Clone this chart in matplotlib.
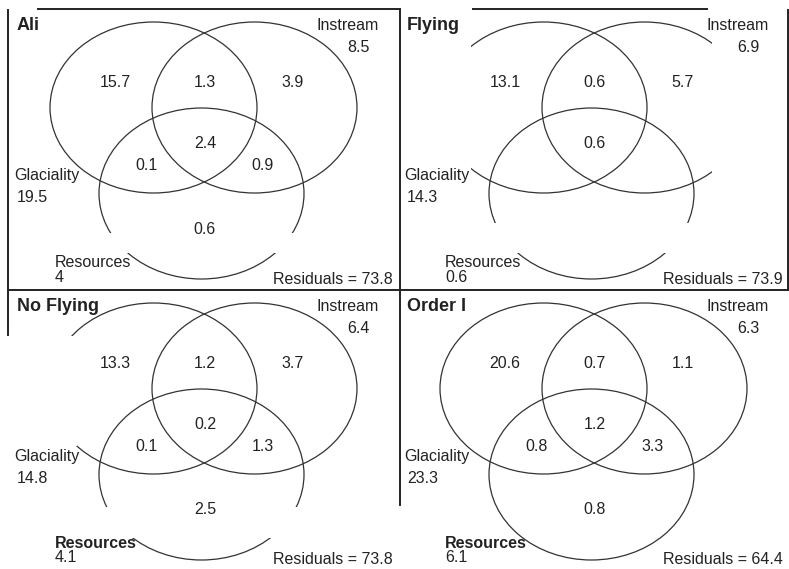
import matplotlib.pyplot as plt
from matplotlib.patches import Ellipse, Rectangle

plt.rcParams['font.family'] = ['Liberation Sans', 'DejaVu Sans']

# Datos de los cuatro paneles (particion de varianza)
panels = ['Ali', 'Flying', 'No Flying', 'Order I']
g_only = ['15.7', '13.1', '13.3', '20.6']
gi = ['1.3', '0.6', '1.2', '0.7']
i_only = ['3.9', '5.7', '3.7', '1.1']
gir = ['2.4', '0.6', '0.2', '1.2']
gr = ['0.1', '', '0.1', '0.8']
ir = ['0.9', '', '1.3', '3.3']
r_only = ['0.6', '', '2.5', '0.8']
glaciality = ['19.5', '14.3', '14.8', '23.3']
instream = ['8.5', '6.9', '6.4', '6.3']
resources = ['4', '0.6', '4.1', '6.1']
residuals = ['73.8', '73.9', '73.8', '64.4']

# desplazamiento de cada panel (pixeles)
offsets = [(0, 0), (390, 0), (0, 281), (390, 281)]
ink = '#222222'

fig = plt.figure(figsize=(7.89, 5.69), dpi=100)
ax = fig.add_axes([0, 0, 1, 1])
ax.set_xlim(0, 789)
ax.set_ylim(569, 0)
ax.axis('off')

for k, name in enumerate(panels):
    dx, dy = offsets[k]
    # elipses: Glaciality, Instream, Resources
    for cx, cy, w in [(153.5, 107.5, 207), (254.5, 107.5, 205), (201.5, 193.5, 205)]:
        ax.add_patch(Ellipse((cx + dx, cy + dy), w, 171, fill=False,
                             edgecolor='#333333', lw=0.9, zorder=1))

    # textos de regiones
    regiones = [(g_only, 115, 82), (gi, 205, 82), (i_only, 293, 82), (gir, 205, 143),
                (gr, 147, 165), (ir, 263, 165), (r_only, 205, 229)]
    for vals, x, y in regiones:
        ax.text(x + dx, y + dy, vals[k], ha='center', va='center', fontsize=11.5,
                color=ink, zorder=3)

    ax.text(17 + dx, 25 + dy, name, ha='left', va='center', fontsize=13,
            fontweight='bold', color=ink, zorder=3)
    ax.text(317 + dx, 25 + dy, 'Instream', ha='left', va='center', fontsize=11.5, color=ink, zorder=3)
    ax.text(347 + dx, 47 + dy, instream[k], ha='left', va='center', fontsize=11.5, color=ink, zorder=3)
    ax.text(14 + dx, 175 + dy, 'Glaciality', ha='left', va='center', fontsize=11.5, color=ink, zorder=3)
    ax.text(17 + dx, 197 + dy, glaciality[k], ha='left', va='center', fontsize=11.5, color=ink, zorder=3)
    ax.text(55 + dx, 262 + dy, 'Resources', ha='left', va='center', fontsize=11.5, color=ink,
            fontweight='bold' if k >= 2 else 'normal', zorder=3)
    ax.text(55 + dx, 277 + dy, resources[k], ha='left', va='center', fontsize=11.5, color=ink, zorder=3)
    ax.text(393 + dx, 279 + dy, 'Residuals = ' + residuals[k], ha='right', va='center',
            fontsize=11.5, color=ink, zorder=3)

# huecos del escaneo original
huecos = [(10, 233, 388, 20), (402, 223, 384, 30), (402, 10, 69, 220), (712, 10, 74, 220),
          (10, 336, 67, 110), (10, 507, 388, 31)]
for x, y, w, h in huecos:
    ax.add_patch(Rectangle((x, y), w, h, facecolor='white', edgecolor='none', zorder=2))

# bordes de los paneles
bordes = [((8, 8), (10, 335)), ((400, 400), (9, 505)), ((38, 400), (9, 9)),
          ((473, 707), (9, 9)), ((8, 789), (290, 290)), ((788, 788), (10, 290))]
for xs, ys in bordes:
    ax.plot(xs, ys, color=ink, lw=1.4, zorder=4)

plt.savefig('out.png', dpi=100)
